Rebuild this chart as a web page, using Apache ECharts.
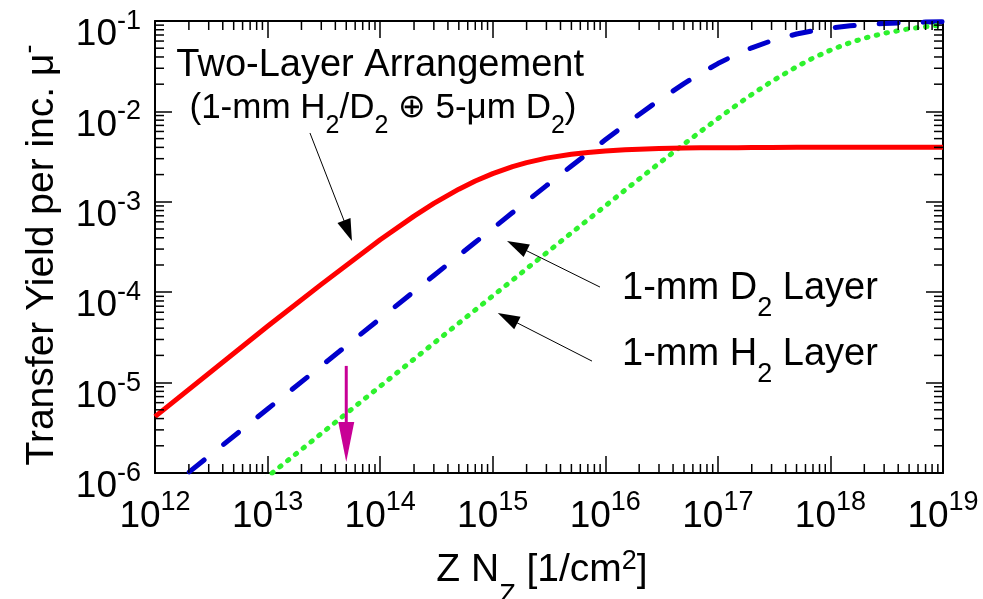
<!DOCTYPE html>
<html>
<head>
<meta charset="utf-8">
<script src="https://cdn.jsdelivr.net/npm/echarts@6/dist/echarts.min.js"></script>
<style>
  html, body { margin: 0; padding: 0; background: #ffffff; }
  #chart { width: 983px; height: 599px; }
</style>
</head>
<body>
<div id="chart"></div>
<script>
// Column density Z·N_Z [1/cm^2] at which the yields are given
const columnDensity = [1e12, 1e13, 3e13, 1e14, 2e14, 3e14, 5e14, 7e14, 1e15, 1.5e15, 2e15,
                       3e15, 5e15, 7e15, 1e16, 1.5e16, 2e16, 3e16, 5e16, 7e16, 1e17, 1.5e17,
                       2e17, 3e17, 5e17, 7e17, 1e18, 1.5e18, 2e18, 3e18, 5e18, 7e18, 1e19];
// Transfer yield per incident muon
const twoLayerYield = [4.2e-6, 4.2e-5, 1.22e-4, 3.8e-4, 6.95e-4, 9.6e-4, 1.38e-3, 1.7e-3, 2.05e-3, 2.45e-3, 2.71e-3,
                       3.04e-3, 3.36e-3, 3.52e-3, 3.65e-3, 3.76e-3, 3.82e-3, 3.88e-3, 3.93e-3, 3.95e-3, 3.96e-3, 3.97e-3,
                       3.98e-3, 3.99e-3, 4.0e-3, 4.0e-3, 4.0e-3, 4.0e-3, 4.0e-3, 4.0e-3, 4.0e-3, 4.0e-3, 4.0e-3];
const d2LayerYield   = [5.1e-7, 5.1e-6, 1.53e-5, 5.1e-5, 1.02e-4, 1.53e-4, 2.55e-4, 3.57e-4, 5.07e-4, 7.6e-4, 1.01e-3,
                       1.51e-3, 2.49e-3, 3.45e-3, 4.85e-3, 7.1e-3, 9.26e-3, 1.33e-2, 2.03e-2, 2.63e-2, 3.38e-2, 4.34e-2,
                       5.05e-2, 6.05e-2, 7.18e-2, 7.81e-2, 8.36e-2, 8.84e-2, 9.11e-2, 9.39e-2, 9.62e-2, 9.73e-2, 9.81e-2];
const h2LayerYield   = [9.1e-8, 9.1e-7, 2.73e-6, 9.1e-6, 1.82e-5, 2.73e-5, 4.55e-5, 6.36e-5, 9.1e-5, 1.36e-4, 1.82e-4,
                       2.72e-4, 4.53e-4, 6.32e-4, 9.0e-4, 1.35e-3, 1.79e-3, 2.66e-3, 4.35e-3, 5.98e-3, 8.33e-3, 1.2e-2,
                       1.54e-2, 2.14e-2, 3.12e-2, 3.89e-2, 4.76e-2, 5.77e-2, 6.45e-2, 7.32e-2, 8.2e-2, 8.64e-2, 9.01e-2];

// Axis decades (tick labels are 10^exponent) and the minor-tick multipliers inside each decade
const xExponents = [12, 13, 14, 15, 16, 17, 18, 19];
const yExponents = [-6, -5, -4, -3, -2, -1];
const minorSteps = [2, 3, 4, 5, 6, 7, 8, 9];

// Pointer arrows: [fromX, fromY, toX, toY] in data units
const captionArrows = [
  [2.38e13, 5.77e-3, 5.62e13, 3.68e-4],
  [8.97e15, 1.14e-4, 1.34e15, 3.68e-4],
  [7.62e15, 1.73e-5, 1.11e15, 5.89e-5]
];
// Marked column density (magenta arrow)
const markedArrow = [[5e13, 1.53e-5, 5e13, 1.32e-6]];

const FONT = '"Liberation Sans", Arial, Helvetica, sans-serif';
const X_MIN = Math.pow(10, xExponents[0]);
const X_MAX = Math.pow(10, xExponents[xExponents.length - 1]);
const Y_MIN = Math.pow(10, yExponents[0]);
const Y_MAX = Math.pow(10, yExponents[yExponents.length - 1]);
const MAJOR_LEN = 17;
const MINOR_LEN = 9;

function pairs(xs, ys) { return xs.map((x, i) => [x, ys[i]]); }

function minorValues(exps) {
  const out = [];
  for (let i = 0; i < exps.length - 1; i++) {
    for (const m of minorSteps) out.push(m * Math.pow(10, exps[i]));
  }
  return out;
}

function powerLabel(v) {
  const e = Math.round(Math.log10(v));
  return '{b|10}{s|' + e + '}';
}

const powerRich = {
  b: { fontFamily: FONT, fontSize: 37, lineHeight: 37, color: '#000', verticalAlign: 'middle' },
  s: { fontFamily: FONT, fontSize: 27, lineHeight: 27, color: '#000', verticalAlign: 'middle', padding: [0, 0, 27, 0] }
};

const annoRich = {
  a: { fontFamily: FONT, fontSize: 38, lineHeight: 38, color: '#000', verticalAlign: 'middle' },
  d: { fontFamily: FONT, fontSize: 27, lineHeight: 27, color: '#000', verticalAlign: 'middle', padding: [40, 0, 0, 0] },
  c: { fontFamily: FONT, fontSize: 35, lineHeight: 35, color: '#000', verticalAlign: 'middle' },
  e: { fontFamily: FONT, fontSize: 25, lineHeight: 25, color: '#000', verticalAlign: 'middle', padding: [36, 0, 0, 0] },
  o: { fontFamily: '"DejaVu Sans", sans-serif', fontSize: 33, lineHeight: 33, color: '#000', verticalAlign: 'middle' }
};

const frameLine = { show: true, lineStyle: { color: '#000', width: 2 } };
const majorTick = { show: true, inside: true, length: MAJOR_LEN, lineStyle: { color: '#000', width: 1.5 } };

function frameAxis(base) {
  return Object.assign({
    type: 'log', logBase: 10,
    axisLine: frameLine, axisTick: majorTick,
    splitLine: { show: false }, minorTick: { show: false }, minorSplitLine: { show: false }
  }, base);
}

// Arrow drawn from a data-space start point to a data-space tip, with a filled head
function arrowRenderer(color, lineWidth, headLen, headWidth) {
  return function (params, api) {
    const p0 = api.coord([api.value(0), api.value(1)]);
    const p1 = api.coord([api.value(2), api.value(3)]);
    const dx = p1[0] - p0[0], dy = p1[1] - p0[1];
    const len = Math.sqrt(dx * dx + dy * dy) || 1;
    const ux = dx / len, uy = dy / len;
    const bx = p1[0] - ux * headLen, by = p1[1] - uy * headLen;
    const nx = -uy * headWidth / 2, ny = ux * headWidth / 2;
    return { type: 'group', children: [
      { type: 'line', shape: { x1: p0[0], y1: p0[1], x2: bx + ux * 2, y2: by + uy * 2 },
        style: { stroke: color, lineWidth: lineWidth } },
      { type: 'polygon', shape: { points: [[p1[0], p1[1]], [bx + nx, by + ny], [bx - nx, by - ny]] },
        style: { fill: color } }
    ] };
  };
}

const chart = echarts.init(document.getElementById('chart'), null, { renderer: 'canvas' });

const minorTickStyle = { stroke: '#000', lineWidth: 1.5 };

chart.setOption({
  animation: false,
  backgroundColor: '#ffffff',
  grid: { left: 155, right: 40, top: 21, bottom: 126, containLabel: false, outerBoundsMode: 'none' },
  xAxis: [
    frameAxis({
      position: 'bottom', min: X_MIN, max: X_MAX, splitNumber: xExponents.length - 1,
      axisLabel: { show: true, margin: 25, formatter: powerLabel, rich: powerRich,
                   showMinLabel: true, showMaxLabel: true, hideOverlap: false },
      name: '{t|Z N}{sub|Z}{t| [1/cm}{sup|2}{t|]}',
      nameLocation: 'middle', nameGap: 78, nameMoveOverlap: false,
      nameTextStyle: {
        padding: [0, 14, 0, 0],
        rich: {
          t: { fontFamily: FONT, fontSize: 39, lineHeight: 39, color: '#000', verticalAlign: 'middle' },
          sub: { fontFamily: FONT, fontSize: 27, lineHeight: 27, color: '#000', verticalAlign: 'middle', padding: [50, 0, 0, 0] },
          sup: { fontFamily: FONT, fontSize: 27, lineHeight: 27, color: '#000', verticalAlign: 'middle', padding: [0, 0, 18, 0] }
        }
      }
    }),
    frameAxis({
      position: 'top', min: X_MIN, max: X_MAX, splitNumber: xExponents.length - 1,
      axisLabel: { show: false }
    })
  ],
  yAxis: [
    frameAxis({
      position: 'left', min: Y_MIN, max: Y_MAX, splitNumber: yExponents.length - 1,
      axisLabel: { show: true, margin: 14, formatter: powerLabel, rich: powerRich, padding: [28, 0, 0, 0],
                   showMinLabel: true, showMaxLabel: true, hideOverlap: false },
      name: '{t|Transfer Yield per inc. μ}{s|-}',
      nameLocation: 'middle', nameGap: 93, nameRotate: 90, nameMoveOverlap: false,
      nameTextStyle: {
        padding: [0, 16, 0, 0],
        rich: {
          t: { fontFamily: FONT, fontSize: 39, lineHeight: 39, color: '#000', verticalAlign: 'middle' },
          s: { fontFamily: FONT, fontSize: 27, lineHeight: 27, color: '#000', verticalAlign: 'middle', padding: [0, 0, 25, 0] }
        }
      }
    }),
    frameAxis({
      position: 'right', min: Y_MIN, max: Y_MAX, splitNumber: yExponents.length - 1,
      axisLabel: { show: false }
    })
  ],
  series: [
    {
      name: 'Two-Layer Arrangement', type: 'line', xAxisIndex: 0, yAxisIndex: 0,
      data: pairs(columnDensity, twoLayerYield),
      showSymbol: false, symbol: 'none', smooth: false, clip: true, z: 4,
      lineStyle: { color: '#ff0000', width: 5, type: 'solid', join: 'round' }
    },
    {
      name: '1-mm D2 Layer', type: 'line', xAxisIndex: 0, yAxisIndex: 0,
      data: pairs(columnDensity, d2LayerYield),
      showSymbol: false, symbol: 'none', smooth: false, clip: true, z: 3,
      lineStyle: { color: '#0000cc', width: 5, type: [19, 25], cap: 'round', join: 'round' }
    },
    {
      name: '1-mm H2 Layer', type: 'line', xAxisIndex: 0, yAxisIndex: 0,
      data: pairs(columnDensity, h2LayerYield),
      showSymbol: false, symbol: 'none', smooth: false, clip: true, z: 3,
      lineStyle: { color: '#2ef22e', width: 5, type: [1.5, 8.5], cap: 'round', join: 'round' }
    },
    {
      // minor ticks of the x decades, bottom and top edge
      type: 'custom', xAxisIndex: 0, yAxisIndex: 0, silent: true, clip: false, z: 5,
      data: minorValues(xExponents).map(v => [v, Y_MIN]),
      encode: { x: 0, y: 1 },
      renderItem: function (params, api) {
        const v = api.value(0);
        const lo = api.coord([v, Y_MIN]);
        const hi = api.coord([v, Y_MAX]);
        return { type: 'group', children: [
          { type: 'line', shape: { x1: lo[0], y1: lo[1], x2: lo[0], y2: lo[1] - MINOR_LEN }, style: minorTickStyle },
          { type: 'line', shape: { x1: hi[0], y1: hi[1], x2: hi[0], y2: hi[1] + MINOR_LEN }, style: minorTickStyle }
        ] };
      }
    },
    {
      // minor ticks of the y decades, left and right edge
      type: 'custom', xAxisIndex: 0, yAxisIndex: 0, silent: true, clip: false, z: 5,
      data: minorValues(yExponents).map(v => [X_MIN, v]),
      encode: { x: 0, y: 1 },
      renderItem: function (params, api) {
        const v = api.value(1);
        const lo = api.coord([X_MIN, v]);
        const hi = api.coord([X_MAX, v]);
        return { type: 'group', children: [
          { type: 'line', shape: { x1: lo[0], y1: lo[1], x2: lo[0] + MINOR_LEN, y2: lo[1] }, style: minorTickStyle },
          { type: 'line', shape: { x1: hi[0], y1: hi[1], x2: hi[0] - MINOR_LEN, y2: hi[1] }, style: minorTickStyle }
        ] };
      }
    },
    {
      // black pointer arrows from the captions to the curves
      type: 'custom', xAxisIndex: 0, yAxisIndex: 0, silent: true, clip: false, z: 6,
      data: captionArrows, encode: { x: [0, 2], y: [1, 3] },
      renderItem: arrowRenderer('#000000', 1, 22, 14)
    },
    {
      // magenta marker at the chosen column density
      type: 'custom', xAxisIndex: 0, yAxisIndex: 0, silent: true, clip: false, z: 6,
      data: markedArrow, encode: { x: [0, 2], y: [1, 3] },
      renderItem: arrowRenderer('#c80096', 3, 40, 16)
    },
    {
      // captions
      type: 'line', xAxisIndex: 0, yAxisIndex: 0, data: [], silent: true, z: 6,
      markPoint: {
        silent: true, animation: false, symbol: 'circle', symbolSize: 0,
        label: { show: true, position: 'inside', rich: annoRich, color: '#000' },
        data: [
          { coord: [1e14, 0.0318], value: 0, label: { align: 'center', verticalAlign: 'middle', formatter: '{a|Two-Layer Arrangement}' } },
          { coord: [1.06e14, 0.0109], value: 0, label: { align: 'center', verticalAlign: 'middle',
            formatter: '{c|(1-mm H}{e|2}{c|/D}{e|2}{c| }{o|⊕}{c| 5-μm D}{e|2}{c|)}' } },
          { coord: [1.41e16, 1.11e-4], value: 0, label: { align: 'left', verticalAlign: 'middle', formatter: '{a|1-mm D}{d|2}{a| Layer}' } },
          { coord: [1.41e16, 2.02e-5], value: 0, label: { align: 'left', verticalAlign: 'middle', formatter: '{a|1-mm H}{d|2}{a| Layer}' } }
        ]
      }
    }
  ]
});
</script>
</body>
</html>
